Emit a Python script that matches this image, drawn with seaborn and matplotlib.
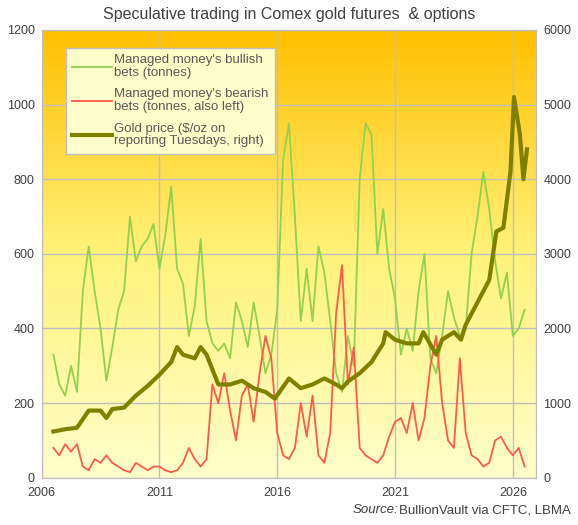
import numpy as np
import pandas as pd
import matplotlib.pyplot as plt
import seaborn as sns
from matplotlib.lines import Line2D

# quarterly readings (decimal year)
pos_years = [2006.5 + 0.25 * i for i in range(81)]
bullish = [330, 250, 220, 300, 230, 500, 620, 500, 400, 260, 350, 450, 500, 700, 580, 620,
           640, 680, 560, 650, 780, 560, 520, 380, 460, 640, 420, 360, 340, 360, 320, 470,
           420, 350, 470, 380, 280, 330, 450, 850, 950, 700, 420, 560, 420, 620, 550, 420,
           280, 230, 380, 300, 800, 950, 920, 600, 720, 560, 480, 330, 400, 340, 500, 600,
           320, 280, 380, 500, 430, 380, 400, 600, 700, 820, 720, 580, 480, 550, 380, 400, 450]
bearish = [80, 60, 90, 70, 90, 30, 20, 50, 40, 60, 40, 30, 20, 15, 40, 30,
           20, 30, 30, 20, 15, 20, 40, 80, 50, 30, 50, 250, 200, 280, 180, 100,
           220, 250, 150, 280, 380, 320, 120, 60, 50, 80, 200, 110, 220, 60, 40, 120,
           440, 570, 250, 350, 80, 60, 50, 40, 60, 110, 150, 160, 120, 200, 100, 160,
           300, 380, 200, 100, 80, 320, 120, 60, 50, 30, 40, 100, 110, 80, 60, 80, 30]
gold_years = [2006.5, 2007, 2007.5, 2008, 2008.5, 2008.75, 2009, 2009.5, 2010, 2010.5, 2011,
              2011.5, 2011.75, 2012, 2012.5, 2012.75, 2013, 2013.5, 2014, 2014.5, 2015, 2015.5,
              2015.9, 2016.5, 2017, 2017.5, 2018, 2018.5, 2018.75, 2019, 2019.5, 2020, 2020.5,
              2020.6, 2021, 2021.5, 2022, 2022.2, 2022.75, 2023, 2023.5, 2023.8, 2024, 2024.5,
              2025, 2025.3, 2025.6, 2025.9, 2026.05, 2026.3, 2026.45, 2026.6]
gold = [620, 650, 670, 900, 900, 800, 920, 940, 1100, 1230, 1380, 1550, 1750, 1650, 1600,
        1750, 1650, 1250, 1250, 1300, 1200, 1150, 1060, 1330, 1200, 1250, 1330, 1250, 1200,
        1290, 1400, 1550, 1800, 1950, 1850, 1800, 1800, 1950, 1650, 1850, 1950, 1850, 2050,
        2350, 2650, 3300, 3350, 4100, 5100, 4600, 4000, 4400]

plt.rcParams['font.family'] = ['Liberation Sans', 'DejaVu Sans']
green, red, olive = '#92D050', '#FF5B4B', '#808000'

fig, ax = plt.subplots(figsize=(5.78, 5.25), dpi=100)
fig.subplots_adjust(left=0.072, right=0.928, top=0.943, bottom=0.09)

# gradient background, orange at the top
grad = np.linspace(0, 1, 256).reshape(-1, 1)
cmap = plt.matplotlib.colors.LinearSegmentedColormap.from_list('bg', ['#FFC000', '#FFF27A', '#FFFFCC'])
ax.imshow(grad, aspect='auto', cmap=cmap, origin='upper', extent=[2006, 2027, 0, 1200], zorder=0)

df = pd.DataFrame({'year': pos_years, 'bull': bullish, 'bear': bearish})
sns.lineplot(data=df, x='year', y='bull', color=green, lw=1.3, ax=ax, zorder=3)
sns.lineplot(data=df, x='year', y='bear', color=red, lw=1.3, ax=ax, zorder=3)
ax.set_xlim(2006, 2027)
ax.set_ylim(0, 1200)
ax.set_xticks([2006, 2011, 2016, 2021, 2026])
ax.set_yticks(range(0, 1201, 200))
ax.grid(True, color='#BFBFBF', lw=1)
ax.set_axisbelow(False)
ax.set_xlabel('')
ax.set_ylabel('')

ax2 = ax.twinx()
sns.lineplot(x=gold_years, y=gold, color=olive, lw=3, ax=ax2)
ax2.set_ylim(0, 6000)
ax2.set_yticks(range(0, 6001, 1000))

for a in (ax, ax2):
    a.tick_params(length=0, labelsize=9, colors='#404040', pad=5)
    for s in a.spines.values():
        s.set_color('#BFBFBF')
ax.tick_params(axis='x', pad=7)

handles = [Line2D([], [], color=green, lw=1.3), Line2D([], [], color=red, lw=1.3),
           Line2D([], [], color=olive, lw=3)]
labels = ["Managed money's bullish\nbets (tonnes)", "Managed money's bearish\nbets (tonnes, also left)",
          "Gold price ($/oz on\nreporting Tuesdays, right)"]
leg = ax2.legend(handles, labels, loc='upper left', bbox_to_anchor=(0.035, 0.975), fontsize=9.5,
                 frameon=True, fancybox=False, facecolor='#FFFFCC', edgecolor='#BFBFBF',
                 framealpha=1, handlelength=3.0, labelspacing=0.7, borderpad=0.5, handletextpad=0.2)
for t in leg.get_texts():
    t.set_color('#595959')
    t.set_linespacing(1.1)

fig.text(0.5, 0.972, 'Speculative trading in Comex gold futures  & options', ha='center',
         va='center', fontsize=11.5, color='#404040')
fig.text(0.61, 0.022, 'Source:', style='italic', fontsize=9.5, color='#404040', ha='left')
fig.text(0.69, 0.022, 'BullionVault via CFTC, LBMA', fontsize=9.5, color='#404040', ha='left')

fig.savefig('out.png')
